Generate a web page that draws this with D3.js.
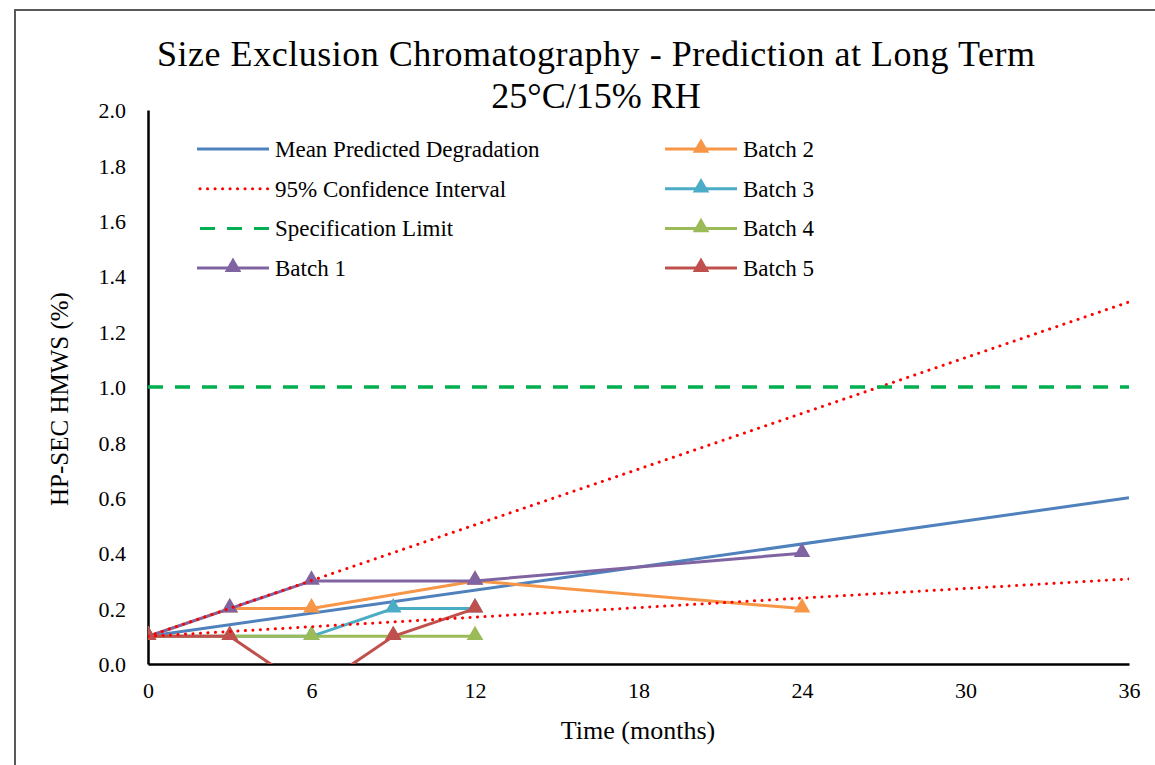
<!DOCTYPE html>
<html>
<head>
<meta charset="utf-8">
<script src="https://cdn.jsdelivr.net/npm/d3@7"></script>
<style>
  body { margin: 0; background: #fff; }
</style>
</head>
<body>
<svg id="chart" width="1155" height="765"></svg>
<script>
// data
const meanMonths = [0, 36];
const meanValues = [0.1, 0.6];
const ciUpper = [0.1, 1.307];
const ciLower = [0.1, 0.307];
const specLimit = [1.0, 1.0];

const batch1 = [[0, 0.1], [3, 0.2], [6, 0.3], [12, 0.3], [24, 0.4]];
const batch2 = [[0, 0.1], [3, 0.2], [6, 0.2], [12, 0.3], [24, 0.2]];
const batch3 = [[0, 0.1], [3, 0.1], [6, 0.1], [9, 0.2], [12, 0.2]];
const batch4 = [[0, 0.1], [3, 0.1], [6, 0.1], [9, 0.1], [12, 0.1]];
const batch5 = [[0, 0.1], [3, 0.1], [6, -0.1], [9, 0.1], [12, 0.2]];

const xTicks = [0, 6, 12, 18, 24, 30, 36];
const yTicks = [0, 0.2, 0.4, 0.6, 0.8, 1.0, 1.2, 1.4, 1.6, 1.8, 2.0];

const colors = {
    mean: "#4F81BD",
    ci: "#FF0000",
    spec: "#00B050",
    b1: "#8064A2",
    b2: "#F79646",
    b3: "#4BACC6",
    b4: "#9BBB59",
    b5: "#C0504D"
};

const FONT = "'Liberation Serif', 'Times New Roman', serif";

const svg = d3.select("#chart");

// outer chart border
svg.append("rect")
    .attr("x", 15).attr("y", 10)
    .attr("width", 1160).attr("height", 780)
    .attr("fill", "none")
    .attr("stroke", "#595959")
    .attr("stroke-width", 2);

const x = d3.scaleLinear().domain([0, 36]).range([148, 1129]);
const y = d3.scaleLinear().domain([0, 2]).range([664, 110]);

// clip to plot area
svg.append("clipPath").attr("id", "plot")
    .append("rect").attr("x", 148).attr("y", 110).attr("width", 981).attr("height", 554);

function label(px, py, txt, size) {
    return svg.append("text").attr("x", px).attr("y", py)
        .attr("font-family", FONT).attr("font-size", size)
        .attr("fill", "#000").text(txt);
}

// title
label(596, 66, "Size Exclusion Chromatography - Prediction at Long Term", 36)
    .attr("text-anchor", "middle").attr("textLength", 878).attr("lengthAdjust", "spacing");
label(596, 108, "25°C/15% RH", 36).attr("text-anchor", "middle");

// axes
const yAxis = svg.append("g").attr("transform", "translate(148,0)")
    .call(d3.axisLeft(y).tickValues(yTicks).tickFormat(d3.format(".1f")).tickSize(0).tickPadding(22));
const xAxis = svg.append("g").attr("transform", "translate(0,664)")
    .call(d3.axisBottom(x).tickValues(xTicks).tickFormat(d3.format("d")).tickSize(0).tickPadding(18));
[xAxis, yAxis].forEach(a => {
    a.attr("font-family", FONT).attr("font-size", 22);
    a.select(".domain").attr("stroke", "#000").attr("stroke-width", 2.5);
    a.selectAll("text").attr("fill", "#000");
});
yAxis.selectAll("text").attr("dy", "0.35em");

label(638, 739, "Time (months)", 26).attr("text-anchor", "middle");
label(0, 0, "HP-SEC HMWS (%)", 25).attr("text-anchor", "middle")
    .attr("transform", "translate(68,399) rotate(-90)");

const line = d3.line().x(d => x(d[0])).y(d => y(d[1]));
const plot = svg.append("g").attr("clip-path", "url(#plot)");

// mean predicted degradation
plot.append("path")
    .datum(meanMonths.map((m, i) => [m, meanValues[i]]))
    .attr("d", line).attr("fill", "none")
    .attr("stroke", colors.mean).attr("stroke-width", 3);

// batches
const tri = d3.symbol().type(d3.symbolTriangle).size(120);
function drawBatch(data, color) {
    plot.append("path").datum(data).attr("d", line).attr("fill", "none")
        .attr("stroke", color).attr("stroke-width", 3);
    plot.selectAll(null).data(data.filter(d => d[1] >= 0)).enter()
        .append("path").attr("d", tri)
        .attr("transform", d => `translate(${x(d[0])},${y(d[1]) - 1})`)
        .attr("fill", color);
}
drawBatch(batch2, colors.b2);
drawBatch(batch3, colors.b3);
drawBatch(batch4, colors.b4);
drawBatch(batch1, colors.b1);
drawBatch(batch5, colors.b5);

// confidence interval
[ciUpper, ciLower].forEach(ci => {
    plot.append("path")
        .datum(meanMonths.map((m, i) => [m, ci[i]]))
        .attr("d", line).attr("fill", "none")
        .attr("stroke", colors.ci).attr("stroke-width", 3)
        .attr("stroke-dasharray", "0.1 7.4").attr("stroke-linecap", "round");
});

// specification limit
plot.append("path")
    .datum(meanMonths.map((m, i) => [m, specLimit[i]]))
    .attr("d", line).attr("fill", "none")
    .attr("stroke", colors.spec).attr("stroke-width", 3.5)
    .attr("stroke-dasharray", "15 12");

// legend
const legendItems = [
    { name: "Mean Predicted Degradation", color: colors.mean, col: 0, row: 0 },
    { name: "95% Confidence Interval", color: colors.ci, col: 0, row: 1, dash: "0.1 7.4", cap: "round" },
    { name: "Specification Limit", color: colors.spec, col: 0, row: 2, dash: "15 12" },
    { name: "Batch 1", color: colors.b1, col: 0, row: 3, marker: true },
    { name: "Batch 2", color: colors.b2, col: 1, row: 0, marker: true },
    { name: "Batch 3", color: colors.b3, col: 1, row: 1, marker: true },
    { name: "Batch 4", color: colors.b4, col: 1, row: 2, marker: true },
    { name: "Batch 5", color: colors.b5, col: 1, row: 3, marker: true }
];
const colX = [197, 665];
legendItems.forEach(it => {
    const lx = colX[it.col];
    const ly = 149 + it.row * 39.7;
    const g = svg.append("g");
    g.append("line").attr("x1", lx + (it.dash ? 3 : 0)).attr("x2", lx + 72).attr("y1", ly).attr("y2", ly)
        .attr("stroke", it.color).attr("stroke-width", 3)
        .attr("stroke-dasharray", it.dash || null)
        .attr("stroke-linecap", it.cap || "butt");
    if (it.marker) {
        g.append("path").attr("d", tri).attr("transform", `translate(${lx + 36},${ly - 1})`).attr("fill", it.color);
    }
    g.append("text").attr("x", lx + 78).attr("y", ly).attr("dy", "0.35em")
        .attr("font-family", FONT).attr("font-size", 23).attr("fill", "#000")
        .text(it.name);
});
</script>
</body>
</html>
